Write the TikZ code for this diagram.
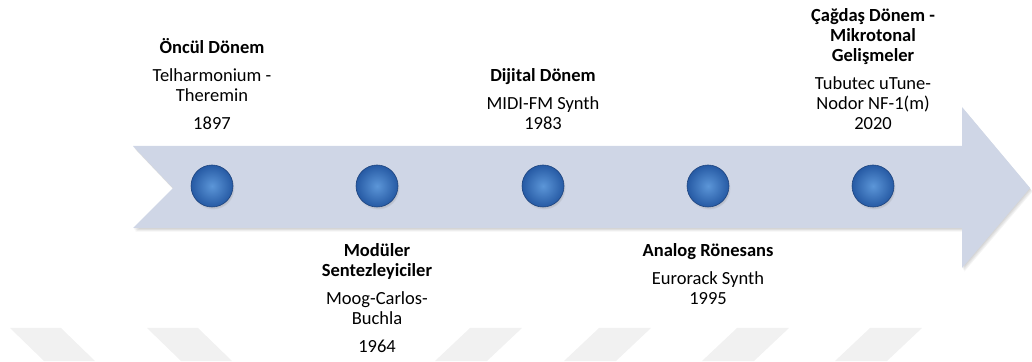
\documentclass[tikz,border=0pt]{standalone}
\usepackage{fontspec}
\setmainfont{Carlito}
\usetikzlibrary{calc,positioning,shadows}

\definecolor{shaftblue}{RGB}{207,214,230}
\definecolor{ballin}{RGB}{92,150,216}
\definecolor{ballout}{RGB}{38,90,164}
\definecolor{ballrim}{RGB}{30,68,126}
\definecolor{markgray}{RGB}{241,241,241}

\newcommand{\arrowshape}{(133,215) -- (962,215) -- (962,254) -- (1030,173) -- (962,93) -- (962,133) -- (133,133) -- (173,173) -- cycle}

\tikzset{
  era/.style={inner sep=0pt, align=center, font=\fontsize{18.5}{20}\selectfont},
  ball/.style={circle, minimum size=42pt, inner sep=0pt, inner color=ballin, outer color=ballout,
    draw=ballrim, line width=0.6pt,
    circular drop shadow={shadow xshift=1pt, shadow yshift=-2pt, shadow scale=1.03, opacity=0.35}},
}

\begin{document}
\begin{tikzpicture}[x=1pt,y=1pt]
\useasboundingbox (0,0) rectangle (1032,361);

%watermark
\foreach \wx in {10,147}
  \fill[markgray] (\wx,33) -- ++(51,0) -- ++(34,-33) -- ++(-51,0) -- cycle;
\foreach \wx in {470,599,737,870}
  \fill[markgray] (\wx,33) -- ++(52,0) -- ++(-35,-33) -- ++(-52,0) -- cycle;

%arrow
\foreach \s in {1,...,4}
  \fill[black, opacity=0.045, shift={(0.6*\s,-0.9*\s)}] \arrowshape;
\fill[shaftblue] \arrowshape;

%balls
\node[ball] (precursor) at (212,175) {};
\node[ball] (modular) at (377,175) {};
\node[ball] (digital) at (543,175) {};
\node[ball] (analog) at (708,175) {};
\node[ball] (modern) at (873,175) {};

%labels
\node[era, anchor=south, above=34.5pt of precursor] (precursorlabel)
  {\textbf{Öncül Dönem}\\[8pt] Telharmonium -\\ Theremin\\[8pt] 1897};
\node[era, anchor=south, above=34.5pt of digital] (digitallabel)
  {\textbf{Dijital Dönem}\\[8pt] MIDI-FM Synth\\ 1983};
\node[era, anchor=south, above=34.5pt of modern] (modernlabel)
  {\textbf{Çağdaş Dönem -}\\ \textbf{Mikrotonal}\\ \textbf{Gelişmeler}\\[8pt] Tubutec uTune-\\ Nodor NF-1(m)\\ 2020};
\node[era, anchor=north, below=36pt of modular] (modularlabel)
  {\textbf{Modüler}\\ \textbf{Sentezleyiciler}\\[8pt] Moog-Carlos-\\ Buchla\\[8pt] 1964};
\node[era, anchor=north, below=36pt of analog] (analoglabel)
  {\textbf{Analog Rönesans}\\[8pt] Eurorack Synth\\ 1995};

\end{tikzpicture}
\end{document}
